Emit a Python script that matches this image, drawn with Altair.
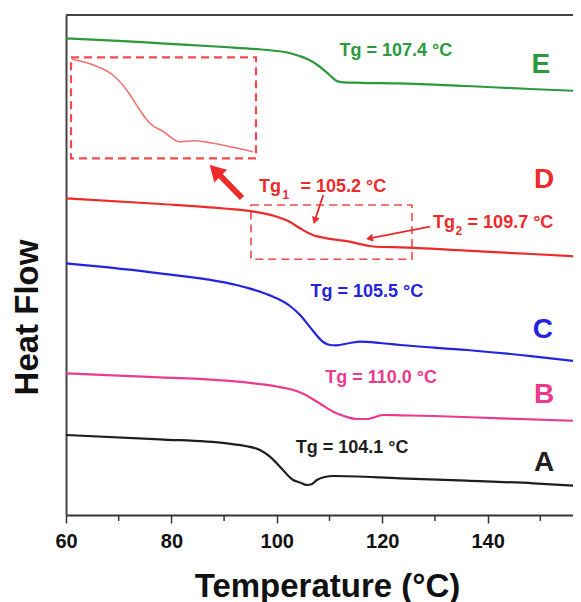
import altair as alt
import pandas as pd

# ---- curves: temperature (°C) and heat flow (arb. units) ----
a_temp = [60, 77.8, 90.5, 94, 96.8, 98.7, 100.6, 103.1, 104.4, 105.7, 106.7, 107.6, 109.1, 110.7, 123.4, 136, 148.7, 157.7]
a_flow = [8.0, 7.57, 7.17, 6.9, 6.5, 5.83, 4.83, 3.5, 3.25, 3.0, 3.1, 3.5, 3.8, 3.9, 3.67, 3.43, 3.17, 2.9]

b_temp = [60, 77.8, 90.5, 100, 102, 104, 106, 108, 110.7, 113, 115.2, 117.1, 120.2, 123.4, 129.7, 142.4, 157.7]
b_flow = [14.17, 13.77, 13.43, 12.85, 12.65, 12.35, 11.85, 11.2, 10.33, 9.85, 9.6, 9.6, 10.0, 9.97, 9.9, 9.67, 9.4]

c_temp = [60, 77.8, 93.6, 99.3, 102.5, 104.4, 106.9, 108.8, 110.1, 111.2, 113.9, 115.8, 119.6, 123.4, 136.1, 148.6, 157.7]
c_flow = [25.17, 24.17, 22.83, 21.83, 20.9, 20.0, 18.4, 17.3, 17.0, 16.97, 17.2, 17.33, 17.2, 17.0, 16.5, 15.87, 15.33]

d_temp = [60, 78, 90, 95, 100, 102.5, 104.4, 106.8, 109.5, 113.8, 117.6, 120, 123.3, 136, 148.4, 157.5]
d_flow = [31.67, 31.1, 30.65, 30.4, 29.83, 29.3, 28.67, 28.0, 27.67, 27.33, 26.9, 26.8, 26.77, 26.43, 26.1, 25.83]

e_temp = [60, 70, 78, 90, 97, 100, 102, 104, 106, 108, 110, 111.4, 112.6, 116, 123, 136, 148, 157.5]
e_flow = [47.67, 47.42, 47.17, 46.8, 46.55, 46.4, 46.25, 45.95, 45.55, 44.9, 44.0, 43.4, 43.27, 43.22, 43.17, 42.9, 42.6, 42.4]

# magnified copy of curve D drawn inside the inset box
inset_temp = [61.08, 65.2, 68.9, 71.5, 74.0, 75.9, 78.5, 81.6, 84.2, 87.3, 91.7, 95.5]
inset_flow = [45.57, 45.0, 44.0, 42.5, 40.5, 39.17, 38.33, 37.33, 37.43, 37.23, 36.77, 36.33]

sample_names = ["A", "B", "C", "D", "E"]
sample_colors = ["#1e1e1e", "#ec3a8c", "#2323e0", "#ee2a2a", "#2a9a3c"]

# ---- annotation boxes (dashed), arrows, labels ----
box_t1 = [60.95, 95.1]
box_t2 = [96.05, 125.65]
box_f1 = [45.77, 31.0]
box_f2 = [35.67, 25.57]
box_w = [2.2, 1.6]

big_arrow = dict(t1=[93.4], f1=[31.7], t2=[88.31], f2=[34.45])
thin_arrow = dict(t1=[108.82, 129.07], f1=[32.0, 28.83], t2=[107.2, 117.59], f2=[29.44, 27.66])
head_temp = [88.31, 107.2, 117.59]
head_flow = [34.45, 29.44, 27.66]
head_size = [324, 64, 64]
head_angle = [315, 198, 259]

tick_minor = [70, 90, 110, 130, 150]

center_text = ["Tg = 107.4 °C", "E", "D", "Tg = 105.5 °C", "C", "Tg = 110.0 °C", "B", "Tg = 104.1 °C", "A"]
center_temp = [122.6, 150.1, 150.7, 117.1, 150.5, 119.8, 150.7, 114.3, 150.7]
center_flow = [46.4, 45.0, 33.5, 22.3, 18.5, 13.7, 12.0, 6.7, 5.2]
center_col = ["#2a9a3c", "#2a9a3c", "#ee2a2a", "#2323e0", "#2323e0", "#ec3a8c", "#ec3a8c", "#1e1e1e", "#1e1e1e"]
center_size = [18, 28, 28, 18, 28, 18, 28, 18, 28]

left_text = ["Tg", "1", "= 105.2 °C", "Tg", "2", "= 109.7 °C"]
left_temp = [96.62, 101.1, 104.5, 129.64, 133.9, 136.2]
left_flow = [32.8, 32.0, 32.8, 29.23, 28.43, 29.23]
left_size = [18, 12, 18, 18, 12, 18]

RED = "#ee2a2a"
FONT = "Liberation Sans"
W, H = 507, 500

rows = []
for name, ts, fs in zip(sample_names, [a_temp, b_temp, c_temp, d_temp, e_temp],
                        [a_flow, b_flow, c_flow, d_flow, e_flow]):
    for t, f in zip(ts, fs):
        rows.append({"sample": name, "T": t, "HF": f})
curves = pd.DataFrame(rows)
inset = pd.DataFrame({"T": inset_temp, "HF": inset_flow})

xs = alt.Scale(domain=[60, 156.2], nice=False, zero=False)
ys = alt.Scale(domain=[0, 50], nice=False, zero=False)

x_axis = alt.Axis(
    values=[60, 80, 100, 120, 140], title="Temperature (°C)", grid=False,
    domainColor="#333", domainWidth=2, tickColor="#333", tickWidth=1.5, tickSize=8,
    labelFont=FONT, labelFontSize=20, labelFontWeight="bold", labelColor="#111", labelPadding=8,
    labelOverlap=False, labelFlush=False,
    titleFont=FONT, titleFontSize=33, titleFontWeight="bold", titleColor="#111",
    titleX=261, titleY=81, titleBaseline="alphabetic", titleAlign="center",
)
y_axis = alt.Axis(
    title="Heat Flow", grid=False, ticks=False, labels=False,
    domainColor="#444", domainWidth=2,
    titleFont=FONT, titleFontSize=33, titleFontWeight="bold", titleColor="#111",
    titleX=-29, titleY=302, titleAngle=270, titleBaseline="alphabetic", titleAlign="center",
)


def X(field):
    return alt.X(field, scale=xs, axis=x_axis, title="Temperature (°C)")


def Y(field):
    return alt.Y(field, scale=ys, axis=y_axis, title="Heat Flow")


lines = alt.Chart(curves).mark_line(strokeWidth=2.2, interpolate="monotone", clip=True).encode(
    x=X("T:Q"), y=Y("HF:Q"),
    color=alt.Color("sample:N", scale=alt.Scale(domain=sample_names, range=sample_colors), legend=None),
)

inset_line = alt.Chart(inset).mark_line(strokeWidth=1.6, interpolate="monotone", color="#f07272").encode(
    x=X("T:Q"), y=Y("HF:Q"),
)

boxes = alt.Chart(pd.DataFrame({"t1": box_t1, "t2": box_t2, "f1": box_f1, "f2": box_f2, "w": box_w})).mark_rect(
    fillOpacity=0, stroke=RED, strokeDash=[8, 5], strokeOpacity=0.85
).encode(
    x=X("t1:Q"), x2="t2:Q", y=Y("f1:Q"), y2="f2:Q",
    strokeWidth=alt.StrokeWidth("w:Q", scale=None),
)

big_shaft = alt.Chart(pd.DataFrame(big_arrow)).mark_rule(color=RED, strokeWidth=6).encode(
    x=X("t1:Q"), x2="t2:Q", y=Y("f1:Q"), y2="f2:Q",
)
thin_shaft = alt.Chart(pd.DataFrame(thin_arrow)).mark_rule(color=RED, strokeWidth=1.8).encode(
    x=X("t1:Q"), x2="t2:Q", y=Y("f1:Q"), y2="f2:Q",
)
heads = alt.Chart(pd.DataFrame({"T": head_temp, "HF": head_flow, "s": head_size, "a": head_angle})).mark_point(
    shape="triangle-up", filled=True, opacity=1, color=RED
).encode(
    x=X("T:Q"), y=Y("HF:Q"),
    size=alt.Size("s:Q", scale=None),
    angle=alt.Angle("a:Q", scale=None),
)

minor = alt.Chart(pd.DataFrame({"T": tick_minor})).mark_rule(color="#333", strokeWidth=1.5).encode(
    x=X("T:Q"), y=alt.value(H), y2=alt.value(H + 6),
)
top_border = alt.Chart(pd.DataFrame({"a": [0]})).mark_rule(color="#444", strokeWidth=2).encode(
    x=alt.value(0), x2=alt.value(W), y=alt.value(0),
)

ctext = alt.Chart(pd.DataFrame({"T": center_temp, "HF": center_flow, "label": center_text,
                                "col": center_col, "fs": center_size})).mark_text(
    font=FONT, fontWeight="bold", align="center", baseline="middle"
).encode(
    x=X("T:Q"), y=Y("HF:Q"),
    text="label:N",
    color=alt.Color("col:N", scale=None),
    size=alt.Size("fs:Q", scale=None),
)
ltext = alt.Chart(pd.DataFrame({"T": left_temp, "HF": left_flow, "label": left_text,
                                "fs": left_size})).mark_text(
    font=FONT, fontWeight="bold", align="left", baseline="middle", color=RED
).encode(
    x=X("T:Q"), y=Y("HF:Q"),
    text="label:N",
    size=alt.Size("fs:Q", scale=None),
)

chart = alt.layer(
    lines, inset_line, boxes, big_shaft, thin_shaft, heads, minor, top_border, ctext, ltext
).properties(
    width=W, height=H,
    autosize=alt.AutoSizeParams(type="none"),
    padding={"left": 58, "top": 7, "right": 0, "bottom": 87},
).configure_view(stroke=None)

chart.save("out.html", embed_options={"renderer": "svg", "actions": False})
